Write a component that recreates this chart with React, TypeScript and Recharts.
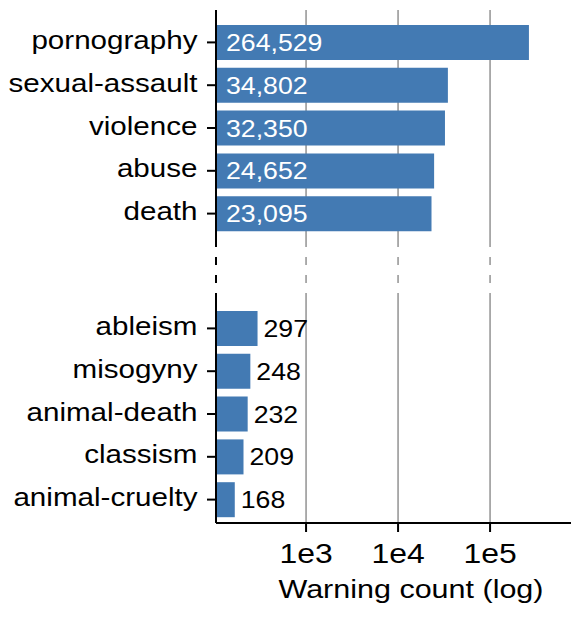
import React from 'react';
import { BarChart, Bar, XAxis, YAxis, CartesianGrid, LabelList, Label } from 'recharts';

// most frequent warnings (upper panel)
const topCategories = ['pornography', 'sexual-assault', 'violence', 'abuse', 'death'];
const topCounts = [264529, 34802, 32350, 24652, 23095];

// least frequent warnings (lower panel)
const bottomCategories = ['ableism', 'misogyny', 'animal-death', 'classism', 'animal-cruelty'];
const bottomCounts = [297, 248, 232, 209, 168];

const xTicks = [1e3, 1e4, 1e5];
const xTickLabels = ['1e3', '1e4', '1e5'];

const topData = topCategories.map((name, i) => ({ name, count: topCounts[i] }));
const bottomData = bottomCategories.map((name, i) => ({ name, count: bottomCounts[i] }));

const X_DOMAIN: [number, number] = [105, 1.82e6];
const BAR_COLOR = '#437ab3';
const GRID_COLOR = '#999';
const FONT = '"Liberation Sans", Arial, Helvetica, sans-serif';
const STRETCH = 1.16;
const CHART_WIDTH = 620;
const AXIS_WIDTH = 216;
const MARGIN_RIGHT = 14;
const BREAK_DASH = '0 10 8 10 8 10';

const axisStroke = { stroke: '#000', strokeWidth: 2 };

// text widened horizontally to get the broad figure lettering
function WideText({ x, y, anchor = 'start', size, fill = '#000', children }: any) {
  return (
    <g transform={`translate(${x},${y}) scale(${STRETCH},1)`}>
      <text x={0} y={0} textAnchor={anchor} fontSize={size} fontFamily={FONT} fill={fill}>
        {children}
      </text>
    </g>
  );
}

const CategoryTick = ({ x, y, payload }: any) => (
  <WideText x={x} y={y + 6.5} anchor="end" size={25.5}>
    {payload.value}
  </WideText>
);

const CountTick = ({ x, y, payload }: any) => (
  <WideText x={x} y={y + 31} anchor="middle" size={27.5}>
    {xTickLabels[xTicks.indexOf(payload.value)]}
  </WideText>
);

const InsideValue = ({ x, y, height, value }: any) => (
  <WideText x={x + 10} y={y + height / 2 + 8.5} size={23} fill="#fff">
    {Number(value).toLocaleString('en-US')}
  </WideText>
);

const OutsideValue = ({ x, y, width, height, value }: any) => (
  <WideText x={x + width + 6} y={y + height / 2 + 8.5} size={23}>
    {Number(value).toLocaleString('en-US')}
  </WideText>
);

const AxisTitle = ({ viewBox }: any) => (
  <WideText x={viewBox.x + viewBox.width / 2} y={viewBox.y + 75} anchor="middle" size={26.3}>
    Warning count (log)
  </WideText>
);

export default function App() {
  return (
    <div
      style={{
        position: 'absolute',
        left: 0,
        top: 0,
        width: 571,
        height: 619,
        overflow: 'hidden',
        background: '#fff',
      }}
    >
      {/* upper panel */}
      <BarChart
        width={CHART_WIDTH}
        height={247}
        data={topData}
        layout="vertical"
        margin={{ top: 10, right: MARGIN_RIGHT, bottom: 0, left: 0 }}
      >
        <CartesianGrid horizontal={false} verticalValues={xTicks} stroke={GRID_COLOR} strokeWidth={1.6} />
        <XAxis type="number" scale="log" domain={X_DOMAIN} allowDataOverflow ticks={xTicks} hide height={0} />
        <YAxis
          type="category"
          dataKey="name"
          width={AXIS_WIDTH}
          padding={{ top: 11, bottom: 12 }}
          axisLine={axisStroke}
          tickLine={axisStroke}
          tickSize={9}
          tickMargin={9.5}
          tick={<CategoryTick />}
          interval={0}
        />
        <Bar dataKey="count" fill={BAR_COLOR} barSize={35} isAnimationActive={false}>
          <LabelList dataKey="count" content={<InsideValue />} />
        </Bar>
      </BarChart>

      {/* axis break: dashed continuation of the spine and grid */}
      <BarChart
        width={CHART_WIDTH}
        height={46}
        data={bottomData}
        layout="vertical"
        margin={{ top: 0, right: MARGIN_RIGHT, bottom: 0, left: 0 }}
      >
        <CartesianGrid
          horizontal={false}
          verticalValues={xTicks}
          stroke={GRID_COLOR}
          strokeWidth={1.6}
          strokeDasharray={BREAK_DASH}
        />
        <XAxis type="number" scale="log" domain={X_DOMAIN} allowDataOverflow ticks={xTicks} hide height={0} />
        <YAxis
          type="category"
          dataKey="name"
          width={AXIS_WIDTH}
          tick={false}
          tickLine={false}
          axisLine={{ ...axisStroke, strokeDasharray: BREAK_DASH }}
        />
        <Bar dataKey="count" hide isAnimationActive={false} />
      </BarChart>

      {/* lower panel */}
      <BarChart
        width={CHART_WIDTH}
        height={326}
        data={bottomData}
        layout="vertical"
        margin={{ top: 0, right: MARGIN_RIGHT, bottom: 0, left: 0 }}
      >
        <CartesianGrid horizontal={false} verticalValues={xTicks} stroke={GRID_COLOR} strokeWidth={1.6} />
        <XAxis
          type="number"
          scale="log"
          domain={X_DOMAIN}
          allowDataOverflow
          ticks={xTicks}
          height={96}
          axisLine={axisStroke}
          tickLine={axisStroke}
          tickSize={9}
          tickMargin={0}
          tick={<CountTick />}
        >
          <Label content={<AxisTitle />} />
        </XAxis>
        <YAxis
          type="category"
          dataKey="name"
          width={AXIS_WIDTH}
          padding={{ top: 14, bottom: 2 }}
          axisLine={axisStroke}
          tickLine={axisStroke}
          tickSize={9}
          tickMargin={9.5}
          tick={<CategoryTick />}
          interval={0}
        />
        <Bar dataKey="count" fill={BAR_COLOR} barSize={35} isAnimationActive={false}>
          <LabelList dataKey="count" content={<OutsideValue />} />
        </Bar>
      </BarChart>
    </div>
  );
}
